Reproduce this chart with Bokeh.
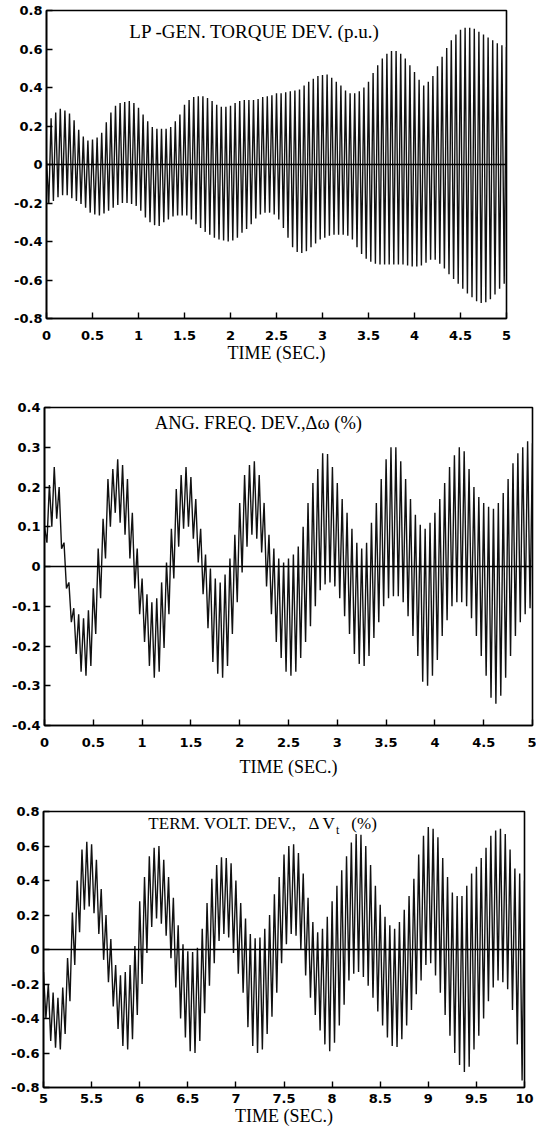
import numpy as np
from bokeh.plotting import figure
from bokeh.models import Span, Label, FixedTicker
from bokeh.embed import file_html
from bokeh.resources import INLINE

# ---------------- data ----------------
# sampling step of the fast oscillation: peaks at t0 + k*STEP, troughs half a step later
STEP = 0.05

# Panel 1: LP-GEN torque deviation (p.u.), t = 0..5 s
p1_t0 = 0.0
p1_upper = [0.02, 0.24, 0.27, 0.29, 0.28, 0.265, 0.23, 0.18, 0.145, 0.125,
            0.13, 0.14, 0.165, 0.22, 0.27, 0.305, 0.32, 0.325, 0.33, 0.32,
            0.295, 0.26, 0.225, 0.195, 0.185, 0.185, 0.186, 0.195, 0.225, 0.26,
            0.31, 0.335, 0.35, 0.355, 0.355, 0.345, 0.33, 0.31, 0.30, 0.30,
            0.305, 0.32, 0.33, 0.335, 0.335, 0.335, 0.34, 0.35, 0.355, 0.36,
            0.37, 0.37, 0.375, 0.38, 0.385, 0.39, 0.41, 0.43, 0.445, 0.46,
            0.465, 0.467, 0.45, 0.43, 0.41, 0.385, 0.37, 0.37, 0.38, 0.40,
            0.43, 0.475, 0.515, 0.55, 0.575, 0.59, 0.59, 0.575, 0.55, 0.515,
            0.48, 0.44, 0.41, 0.43, 0.46, 0.51, 0.56, 0.605, 0.645, 0.675,
            0.70, 0.71, 0.71, 0.705, 0.69, 0.675, 0.66, 0.645, 0.63, 0.62,
            0.61]
p1_lower = [-0.20, -0.19, -0.17, -0.16, -0.16, -0.175, -0.19, -0.205, -0.225, -0.25,
            -0.26, -0.265, -0.255, -0.24, -0.225, -0.21, -0.20, -0.20, -0.205, -0.215,
            -0.24, -0.275, -0.30, -0.315, -0.32, -0.30, -0.285, -0.27, -0.265, -0.265,
            -0.265, -0.285, -0.31, -0.33, -0.35, -0.365, -0.38, -0.39, -0.395, -0.40,
            -0.395, -0.38, -0.355, -0.335, -0.31, -0.28, -0.26, -0.25, -0.25, -0.26,
            -0.285, -0.33, -0.38, -0.43, -0.455, -0.46, -0.45, -0.43, -0.41, -0.39,
            -0.38, -0.37, -0.365, -0.365, -0.365, -0.37, -0.39, -0.43, -0.465, -0.49,
            -0.505, -0.515, -0.52, -0.52, -0.52, -0.52, -0.52, -0.52, -0.525, -0.53,
            -0.53, -0.525, -0.51, -0.495, -0.495, -0.515, -0.54, -0.57, -0.595, -0.62,
            -0.645, -0.67, -0.69, -0.71, -0.72, -0.715, -0.70, -0.675, -0.645, -0.62]

# Panel 2: angular frequency deviation (%), t = 0..5 s
p2_t0 = 0.0
p2_upper = [0.10, 0.205, 0.25, 0.20, 0.06, -0.04, -0.105, -0.12, -0.13, -0.11,
            -0.055, 0.045, 0.12, 0.22, 0.245, 0.27, 0.255, 0.22, 0.135, 0.045,
            -0.03, -0.07, -0.09, -0.08, -0.04, 0.01, 0.095, 0.195, 0.23, 0.25,
            0.225, 0.17, 0.095, 0.03, -0.005, -0.03, -0.04, -0.02, 0.02, 0.08,
            0.16, 0.23, 0.255, 0.265, 0.23, 0.16, 0.08, 0.045, 0.02, 0.01,
            0.02, 0.03, 0.05, 0.10, 0.16, 0.21, 0.245, 0.285, 0.283, 0.25,
            0.21, 0.17, 0.135, 0.095, 0.06, 0.045, 0.06, 0.11, 0.16, 0.22,
            0.27, 0.30, 0.30, 0.265, 0.22, 0.17, 0.13, 0.105, 0.095, 0.11,
            0.135, 0.17, 0.21, 0.25, 0.28, 0.30, 0.29, 0.245, 0.20, 0.175,
            0.16, 0.15, 0.145, 0.16, 0.185, 0.22, 0.26, 0.285, 0.30, 0.315,
            0.31]
p2_lower = [0.06, 0.10, 0.12, 0.045, -0.055, -0.14, -0.22, -0.265, -0.275, -0.25,
            -0.17, -0.08, 0.02, 0.10, 0.135, 0.11, 0.08, 0.02, -0.055, -0.12,
            -0.19, -0.25, -0.28, -0.265, -0.205, -0.12, -0.03, 0.05, 0.095, 0.10,
            0.07, 0.01, -0.07, -0.155, -0.24, -0.27, -0.28, -0.25, -0.17, -0.09,
            -0.015, 0.05, 0.08, 0.07, 0.035, -0.05, -0.12, -0.19, -0.23, -0.265,
            -0.275, -0.265, -0.23, -0.19, -0.15, -0.10, -0.06, -0.045, -0.04, -0.05,
            -0.08, -0.125, -0.17, -0.22, -0.245, -0.25, -0.225, -0.18, -0.14, -0.10,
            -0.08, -0.075, -0.075, -0.09, -0.125, -0.175, -0.225, -0.29, -0.30, -0.275,
            -0.235, -0.175, -0.135, -0.10, -0.09, -0.09, -0.10, -0.13, -0.175, -0.225,
            -0.275, -0.33, -0.345, -0.325, -0.28, -0.225, -0.175, -0.14, -0.12, -0.105]

# Panel 3: terminal voltage deviation (%), t = 5..10 s
p3_t0 = 5.0
p3_upper = [-0.13, -0.20, -0.25, -0.28, -0.22, -0.05, 0.215, 0.40, 0.58, 0.625,
            0.61, 0.52, 0.35, 0.20, 0.06, -0.09, -0.15, -0.13, -0.09, 0.02,
            0.28, 0.42, 0.54, 0.59, 0.60, 0.52, 0.42, 0.30, 0.14, 0.03,
            -0.01, -0.015, 0.01, 0.12, 0.27, 0.41, 0.49, 0.535, 0.53, 0.50,
            0.40, 0.27, 0.18, 0.09, 0.065, 0.07, 0.12, 0.20, 0.32, 0.42,
            0.55, 0.60, 0.61, 0.56, 0.44, 0.30, 0.16, 0.10, 0.12, 0.19,
            0.28, 0.37, 0.46, 0.54, 0.62, 0.67, 0.665, 0.60, 0.49, 0.37,
            0.26, 0.19, 0.14, 0.12, 0.16, 0.23, 0.31, 0.41, 0.55, 0.66,
            0.71, 0.70, 0.65, 0.53, 0.42, 0.33, 0.31, 0.31, 0.37, 0.44,
            0.48, 0.53, 0.59, 0.66, 0.69, 0.70, 0.67, 0.58, 0.47, 0.44,
            0.40]
p3_lower = [-0.40, -0.53, -0.57, -0.58, -0.49, -0.30, -0.09, 0.10, 0.23, 0.25,
            0.21, 0.09, -0.06, -0.19, -0.33, -0.46, -0.56, -0.58, -0.52, -0.38,
            -0.20, -0.02, 0.13, 0.18, 0.15, 0.08, -0.05, -0.22, -0.40, -0.51,
            -0.59, -0.60, -0.53, -0.37, -0.21, -0.08, 0.05, 0.09, 0.07, -0.02,
            -0.14, -0.25, -0.45, -0.56, -0.60, -0.58, -0.49, -0.39, -0.25, -0.08,
            0.03, 0.09, 0.08, 0.00, -0.15, -0.28, -0.38, -0.47, -0.55, -0.59,
            -0.54, -0.44, -0.32, -0.18, -0.14, -0.13, -0.16, -0.21, -0.28, -0.36,
            -0.44, -0.51, -0.56, -0.565, -0.52, -0.44, -0.35, -0.26, -0.18, -0.09,
            -0.08, -0.15, -0.25, -0.38, -0.50, -0.60, -0.67, -0.71, -0.68, -0.58,
            -0.50, -0.40, -0.30, -0.22, -0.18, -0.19, -0.23, -0.35, -0.55, -0.76]

# axis ticks and labels
x1_ticks = [0, 0.5, 1, 1.5, 2, 2.5, 3, 3.5, 4, 4.5, 5]
x1_labels = ["0", "0.5", "1", "1.5", "2", "2.5", "3", "3.5", "4", "4.5", "5"]
x3_ticks = [5, 5.5, 6, 6.5, 7, 7.5, 8, 8.5, 9, 9.5, 10]
x3_labels = ["5", "5.5", "6", "6.5", "7", "7.5", "8", "8.5", "9", "9.5", "10"]
y8_ticks = [-0.8, -0.6, -0.4, -0.2, 0, 0.2, 0.4, 0.6, 0.8]
y8_labels = ["-0.8", "-0.6", "-0.4", "-0.2", "0", "0.2", "0.4", "0.6", "0.8"]
y4_ticks = [-0.4, -0.3, -0.2, -0.1, 0, 0.1, 0.2, 0.3, 0.4]
y4_labels = ["-0.4", "-0.3", "-0.2", "-0.1", "0", "0.1", "0.2", "0.3", "0.4"]

x_title = "TIME (SEC.)"


def zigzag(t0, upper, lower):
    tu = t0 + STEP * np.arange(len(upper))
    tl = t0 + STEP / 2 + STEP * np.arange(len(lower))
    n = len(upper) + len(lower)
    t = np.empty(n)
    v = np.empty(n)
    t[0::2] = tu
    v[0::2] = upper
    t[1::2] = tl
    v[1::2] = lower
    return t, v


def panel(t0, upper, lower, xr, yr, xt, xl, yt, yl,
          left, fw, right, top, fh, bottom, xstand, lstand):
    p = figure(width=left + fw + right, height=top + fh + bottom,
               x_range=xr, y_range=yr, output_backend="svg",
               toolbar_location=None, tools="",
               min_border_left=left, min_border_right=right,
               min_border_top=top, min_border_bottom=bottom)
    p.background_fill_color = "white"
    p.border_fill_color = "white"
    p.outline_line_color = "black"
    p.outline_line_width = 1.6
    p.grid.visible = False
    t, v = zigzag(t0, upper, lower)
    p.line(t, v, line_color="#111111", line_width=1.4)
    p.add_layout(Span(location=0, dimension="width", line_color="black", line_width=1.6))
    for ax in (p.xaxis[0], p.yaxis[0]):
        ax.axis_line_color = "black"
        ax.axis_line_width = 1.6
        ax.major_tick_in = 6
        ax.major_tick_out = 0
        ax.major_tick_line_color = "black"
        ax.major_tick_line_width = 1.4
        ax.minor_tick_line_color = None
        ax.major_label_text_font = "DejaVu Sans"
        ax.major_label_text_font_style = "bold"
        ax.major_label_text_font_size = "13px"
        ax.major_label_text_color = "black"
    p.xaxis.ticker = FixedTicker(ticks=xt)
    p.xaxis.major_label_overrides = dict(zip(xt, xl))
    p.yaxis.ticker = FixedTicker(ticks=yt)
    p.yaxis.major_label_overrides = dict(zip(yt, yl))
    p.xaxis.major_label_standoff = xstand
    p.yaxis.major_label_standoff = 4
    p.xaxis.axis_label = x_title
    p.xaxis.axis_label_text_font = "Liberation Serif"
    p.xaxis.axis_label_text_font_style = "normal"
    p.xaxis.axis_label_text_font_size = "18px"
    p.xaxis.axis_label_text_color = "black"
    p.xaxis.axis_label_standoff = lstand
    return p


def title(p, x, y, text, size="18px"):
    p.add_layout(Label(x=x, y=y, text=text, text_font="Liberation Serif",
                       text_font_size=size, text_color="black",
                       text_align="left", text_baseline="middle"))


p1 = panel(p1_t0, p1_upper, p1_lower, (0, 5), (-0.8, 0.8), x1_ticks, x1_labels,
           y8_ticks, y8_labels, 46, 460, 14, 10, 308, 81, 12, 0)
title(p1, 0.9, 0.69, "LP -GEN. TORQUE DEV. (p.u.)", size="19px")

p2 = panel(p2_t0, p2_upper, p2_lower, (0, 5), (-0.4, 0.4), x1_ticks, x1_labels,
           y4_ticks, y4_labels, 44, 488, 4, 8, 318, 78, 12, 7)
title(p2, 1.13, 0.36, "ANG. FREQ. DEV.,\u0394\u03c9 (%)", size="18.5px")

p3 = panel(p3_t0, p3_upper, p3_lower, (5, 10), (-0.8, 0.8), x3_ticks, x3_labels,
           y8_ticks, y8_labels, 43, 481, 11, 8, 276, 43, 6, 0)
title(p3, 6.09, 0.73, "TERM. VOLT. DEV.,", size="17px")
title(p3, 7.755, 0.73, "\u0394", size="17px")
title(p3, 7.9, 0.73, "V", size="17px")
title(p3, 8.04, 0.695, "t", size="12px")
title(p3, 8.2, 0.73, "(%)", size="17px")

# three independent roots, stacked one under the other (no frame alignment)
open("out.html", "w").write(file_html([p1, p2, p3], INLINE))
